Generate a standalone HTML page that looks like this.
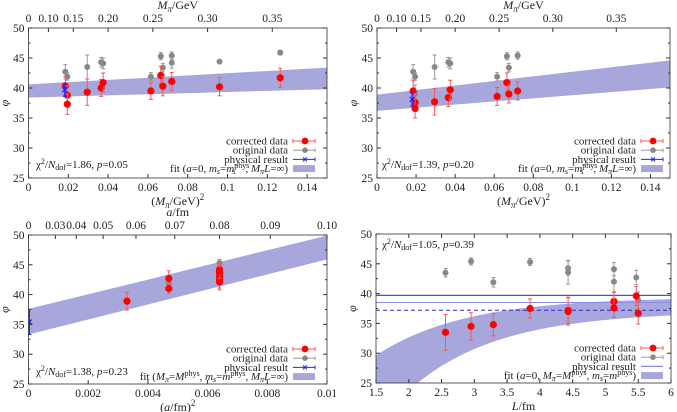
<!DOCTYPE html>
<html><head><meta charset="utf-8"><style>
html,body{margin:0;padding:0;background:#fff;}
svg{display:block;font-family:"Liberation Serif",serif;}
</style></head><body>
<svg id="fig" width="677" height="412" viewBox="0 0 677 412" xmlns="http://www.w3.org/2000/svg"></svg>
<script>
// ---- Panel 1 data: (Mpi/GeV)^2 ----
const p1CorrX=[0.0185,0.0195,0.0195,0.0295,0.0365,0.0375,0.0615,0.0665,0.0675,0.072,0.096,0.1265];
const p1CorrY=[40.3,38.8,37.3,39.3,40.0,40.9,39.5,42.1,40.3,41.1,40.2,41.7];
const p1CorrE=[1.6,1.6,1.7,2.2,1.4,1.6,1.4,1.5,1.6,1.5,1.5,1.6];
const p1OrigX=[0.0185,0.0195,0.0295,0.0365,0.0375,0.0615,0.0665,0.0675,0.072,0.072,0.096,0.1265];
const p1OrigY=[42.7,41.9,43.5,44.3,44.1,41.9,45.3,43.4,45.4,44.2,44.4,45.9];
const p1OrigE=[1.2,0.6,2.0,0.8,0.9,0.7,0.6,0.7,0.6,0.9,0.2,0.4];
const p1Phys=[0.0182,39.7,1.1];
const p1BandLo=[38.4,39.8];
const p1BandHi=[40.6,43.4];
// ---- Panel 2 data ----
const p2CorrX=[0.0185,0.0195,0.0195,0.0295,0.0365,0.0375,0.0615,0.0665,0.0675,0.072];
const p2CorrY=[39.5,37.6,36.6,37.7,38.4,39.7,38.6,40.9,39.0,39.5];
const p2CorrE=[1.7,1.5,1.6,2.2,1.5,1.6,1.5,1.6,1.5,1.5];
const p2OrigX=[0.0185,0.0195,0.0195,0.0295,0.0365,0.0375,0.0615,0.0665,0.0675,0.072];
const p2OrigY=[42.7,41.9,39.0,43.5,44.3,44.1,41.9,45.3,43.4,45.4];
const p2OrigE=[1.2,0.6,1.5,2.0,0.8,0.9,0.7,0.6,0.7,0.6];
const p2Phys=[0.018,38.1,1.1];
const p2BandLo=[36.2,40.1];
const p2BandHi=[38.9,44.6];
// ---- Panel 3 data: (a/fm)^2 ----
const p3CorrX=[0.0033,0.0047,0.0047,0.0064,0.0064,0.0064,0.0064,0.0064,0.0064];
const p3CorrY=[38.9,42.7,41.0,44.2,43.6,43.0,42.5,42.1,43.9];
const p3CorrE=[1.5,1.3,0.8,1.3,1.2,1.2,1.4,1.3,1.2];
const p3OrigX=[0.0047,0.0064,0.0064];
const p3OrigY=[41.9,45.3,44.0];
const p3OrigE=[0.6,0.6,0.8];
const p3Phys=[0.00003,35.4,2.1];
const p3BandLo=[33.3,45.9];
const p3BandHi=[37.6,49.9];
// ---- Panel 4 data: L/fm ----
const p4CorrX=[2.56,2.95,3.29,3.85,4.43,4.43,5.13,5.13,5.47,5.5];
const p4CorrY=[33.5,34.5,34.8,37.5,37.2,37.0,38.7,37.6,39.6,36.7];
const p4CorrE=[3.0,2.3,1.9,1.6,2.2,2.3,1.5,1.6,1.6,1.8];
const p4OrigX=[2.56,2.95,3.29,3.85,4.43,4.43,5.13,5.13,5.47,5.5];
const p4OrigY=[43.5,45.4,41.9,45.3,44.3,43.6,44.1,42.0,42.7,38.9];
const p4OrigE=[0.7,0.6,0.8,0.6,1.2,2.0,1.1,1.7,1.2,1.4];
const p4PhysLines=[39.7,38.5,37.2];
const p4BandUpper=[39.4,29.9,0.745];
const p4BandLower=[37.0,58.9,0.745];

const svg=document.getElementById('fig');
const NS='http://www.w3.org/2000/svg';
function mk(tag,attrs,parent,text){const e=document.createElementNS(NS,tag);for(const k in attrs)e.setAttribute(k,attrs[k]);if(text!==undefined)e.textContent=text;(parent||svg).appendChild(e);return e;}

function panel(cfg){
  const g=mk('g',{});
  
  
  const X=v=>cfg.x0+(v-cfg.xmin)/(cfg.xmax-cfg.xmin)*(cfg.x1-cfg.x0);
  const Y=v=>cfg.y0+(50-v)/25*(cfg.y1-cfg.y0);
  const clip='clip'+cfg.name;
  const d=mk('defs',{},g);const cp=mk('clipPath',{id:clip},d);
  mk('rect',{x:cfg.x0,y:cfg.y0,width:cfg.x1-cfg.x0,height:cfg.y1-cfg.y0},cp);
  const pg=mk('g',{'clip-path':'url(#'+clip+')'},g);
  // band
  let pts='';
  if(cfg.band){
    const [lo,hi]=cfg.band;
    pts=`${X(cfg.xmin)},${Y(hi[0])} ${X(cfg.xmax)},${Y(hi[1])} ${X(cfg.xmax)},${Y(lo[1])} ${X(cfg.xmin)},${Y(lo[0])}`;
  } else {
    const up=[],dn=[];
    for(let L=cfg.xmin;L<=cfg.xmax+1e-9;L+=0.05){
      up.push(X(L)+','+Y(p4BandUpper[0]-p4BandUpper[1]*Math.exp(-p4BandUpper[2]*L)));
      dn.unshift(X(L)+','+Y(p4BandLower[0]-p4BandLower[1]*Math.exp(-p4BandLower[2]*L)));
    }
    pts=up.concat(dn).join(' ');
  }
  const band=mk('polygon',{points:pts,fill:'#a7a7dc'},pg);
  
  
  if(cfg.lines){
    const ln=cfg.lines;
    const l1=mk('line',{x1:cfg.x0,x2:cfg.x1,y1:Y(ln[0]),y2:Y(ln[0]),stroke:'#4a4ae8','stroke-width':1.2},pg);
    
    const l2=mk('line',{x1:cfg.x0,x2:cfg.x1,y1:Y(ln[1]),y2:Y(ln[1]),stroke:'#8c8cf0','stroke-width':1},pg);
    
    const l3=mk('line',{x1:cfg.x0,x2:cfg.x1,y1:Y(ln[2]),y2:Y(ln[2]),stroke:'#2a2ad0','stroke-width':1,'stroke-dasharray':'4,3'},pg);
    
  }
  function pt(x,y,e,col,barcol,r,name){
    const px=X(x),py=Y(y);
    const eg=mk('g',{},pg);
    
    
    mk('line',{x1:px,x2:px,y1:Y(y+e),y2:Y(y-e),stroke:barcol,'stroke-width':1},eg);
    mk('line',{x1:px-2,x2:px+2,y1:Y(y+e),y2:Y(y+e),stroke:barcol,'stroke-width':1},eg);
    mk('line',{x1:px-2,x2:px+2,y1:Y(y-e),y2:Y(y-e),stroke:barcol,'stroke-width':1},eg);
    mk('circle',{cx:px,cy:py,r:r,fill:col},eg);
  }
  for(let i=0;i<cfg.ox.length;i++)pt(cfg.ox[i],cfg.oy[i],cfg.oe[i],'#888','#999',3,'original-point');
  for(let i=0;i<cfg.cx.length;i++)pt(cfg.cx[i],cfg.cy[i],cfg.ce[i],'#f00','#f55',3.6,'corrected-point');
  if(cfg.phys){
    const [x,y,e]=cfg.phys;const px=X(x),py=Y(y);
    const eg=mk('g',{},pg);
    
    
    mk('line',{x1:px,x2:px,y1:Y(y+e),y2:Y(y-e),stroke:'#22f','stroke-width':1.2},eg);
    mk('line',{x1:px-2,x2:px+2,y1:Y(y+e),y2:Y(y+e),stroke:'#22f'},eg);
    mk('line',{x1:px-2,x2:px+2,y1:Y(y-e),y2:Y(y-e),stroke:'#22f'},eg);
    mk('path',{d:`M${px-2.5},${py-2.5}L${px+2.5},${py+2.5}M${px-2.5},${py+2.5}L${px+2.5},${py-2.5}`,stroke:'#22f','stroke-width':1.2},eg);
  }
  // frame
  const fr=mk('rect',{x:cfg.x0,y:cfg.y0,width:cfg.x1-cfg.x0,height:cfg.y1-cfg.y0,fill:'none',stroke:'#333','stroke-width':0.8},g);
  
  // y ticks
  for(let v=25;v<=50;v+=5){
    const py=Y(v);
    mk('line',{x1:cfg.x0,x2:cfg.x0+4,y1:py,y2:py,stroke:'#333'},g);
    mk('line',{x1:cfg.x1,x2:cfg.x1-4,y1:py,y2:py,stroke:'#333'},g);
    const t=mk('text',{x:cfg.x0-4,y:py+4,'text-anchor':'end','font-size':11.5,fill:'#222'},g,String(v));
    
  }
  for(let v=27.5;v<50;v+=5){const py=Y(v);mk('line',{x1:cfg.x0,x2:cfg.x0+2,y1:py,y2:py,stroke:'#333'},g);mk('line',{x1:cfg.x1,x2:cfg.x1-2,y1:py,y2:py,stroke:'#333'},g);}
  // x ticks
  cfg.xt.forEach((v,i)=>{
    const px=X(v);
    mk('line',{x1:px,x2:px,y1:cfg.y1,y2:cfg.y1-4,stroke:'#333'},g);
    if(!cfg.top)mk('line',{x1:px,x2:px,y1:cfg.y0,y2:cfg.y0+4,stroke:'#333'},g);
    const t=mk('text',{x:px,y:cfg.y1+13,'text-anchor':'middle','font-size':11.5,fill:'#222'},g,cfg.xl[i]);
    
  });
  if(cfg.top){
    cfg.top.forEach((v,i)=>{
      const px=X(v*v);
      mk('line',{x1:px,x2:px,y1:cfg.y0,y2:cfg.y0+4,stroke:'#333'},g);
      const t=mk('text',{x:px,y:cfg.y0-6,'text-anchor':'middle','font-size':11.5,fill:'#222'},g,cfg.topl[i]);
      
    });
    const tt=mk('text',{x:(cfg.x0+cfg.x1)/2,y:cfg.y0-19,'text-anchor':'middle','font-size':12,fill:'#222'},g);
    tt.innerHTML=cfg.toptitle;
    
  }
  const xt=mk('text',{x:(cfg.x0+cfg.x1)/2,y:cfg.y1+27,'text-anchor':'middle','font-size':12,fill:'#222'},g);
  xt.innerHTML=cfg.xtitle;
  
  const yt=mk('text',{x:cfg.x0-20,y:(cfg.y0+cfg.y1)/2,'text-anchor':'middle','font-size':12,'font-style':'italic',fill:'#222',transform:`rotate(-90 ${cfg.x0-20} ${(cfg.y0+cfg.y1)/2})`},g,'φ');
  
  // legend
  const lg=mk('g',{'font-size':11,fill:'#222'},g);
  
  const lx=cfg.legX, ly=cfg.legY;
  cfg.legend.forEach((txt,i)=>{
    const y=ly+i*9.2;
    const t=mk('text',{x:lx,y:y+3.5,'text-anchor':'end'},lg);t.innerHTML=txt;
    
    const sx=lx+5,ex=lx+27,mx=lx+17;
    if(i===0){mk('line',{x1:sx,x2:ex,y1:y,y2:y,stroke:'#f55'},lg);mk('line',{x1:sx,x2:sx,y1:y-2,y2:y+2,stroke:'#f55'},lg);mk('line',{x1:ex,x2:ex,y1:y-2,y2:y+2,stroke:'#f55'},lg);mk('circle',{cx:mx,cy:y,r:3.4,fill:'#f00'},lg);}
    else if(i===1){mk('line',{x1:sx,x2:ex,y1:y,y2:y,stroke:'#999'},lg);mk('line',{x1:ex,x2:ex,y1:y-2,y2:y+2,stroke:'#999'},lg);mk('circle',{cx:mx,cy:y,r:2.8,fill:'#888'},lg);}
    else if(i===2){
      if(cfg.lines){mk('line',{x1:sx,x2:ex,y1:y,y2:y,stroke:'#8c8cf0','stroke-width':1.2},lg);}
      else{mk('line',{x1:sx,x2:ex,y1:y,y2:y,stroke:'#22f'},lg);mk('line',{x1:ex,x2:ex,y1:y-2,y2:y+2,stroke:'#22f'},lg);mk('path',{d:`M${mx-2},${y-2}L${mx+2},${y+2}M${mx-2},${y+2}L${mx+2},${y-2}`,stroke:'#22f'},lg);}
    } else {mk('rect',{x:sx,y:y-3.5,width:22,height:7,fill:'#a7a7dc'},lg);}
  });
  const ch=mk('text',{x:cfg.chiX,y:cfg.chiY,'font-size':11,fill:'#222'},g);
  ch.innerHTML=cfg.chi;
  
}

const mpiTop=[0,0.10,0.15,0.20,0.25,0.30,0.35];
const mpiTopL=['0','0.10','0.15','0.20','0.25','0.30','0.35'];
const m2t=[0,0.02,0.04,0.06,0.08,0.1,0.12,0.14];
const m2l=['0','0.02','0.04','0.06','0.08','0.1','0.12','0.14'];
const legA=['corrected data','original data','physical result','fit (<tspan font-style="italic">a</tspan>=0, <tspan font-style="italic">m<tspan font-size="8" dy="2">s</tspan></tspan><tspan dy="-2">=</tspan><tspan font-style="italic">m</tspan><tspan font-size="8" dy="-4">phys</tspan><tspan font-size="8" dx="-17" dy="6">s</tspan><tspan dx="10" dy="-2">, </tspan><tspan font-style="italic">M<tspan font-size="8" dy="2">π</tspan></tspan><tspan dy="-2" font-style="italic">L</tspan>=∞)'];
const mtitle='<tspan font-style="italic">M</tspan><tspan font-size="9" dy="3" font-style="italic">π</tspan><tspan dy="-3">/GeV</tspan>';
const xtitle12='(<tspan font-style="italic">M</tspan><tspan font-size="9" dy="3" font-style="italic">π</tspan><tspan dy="-3">/GeV)</tspan><tspan font-size="9" dy="-5">2</tspan>';

panel({name:'panel-mpi-a',x0:28.5,x1:327,y0:28,y1:178,xmin:0,xmax:0.15,cx:p1CorrX,cy:p1CorrY,ce:p1CorrE,ox:p1OrigX,oy:p1OrigY,oe:p1OrigE,phys:p1Phys,band:[p1BandLo,p1BandHi],xt:m2t,xl:m2l,top:mpiTop,topl:mpiTopL,toptitle:mtitle,xtitle:xtitle12,legend:legA,legX:288,legY:141,chi:'χ<tspan font-size="8" dy="-4">2</tspan><tspan dy="4">/</tspan><tspan font-style="italic">N</tspan><tspan font-size="8" dy="2">dof</tspan><tspan dy="-2">=1.86, </tspan><tspan font-style="italic">p</tspan>=0.05',chiX:36,chiY:168});
panel({name:'panel-mpi-b',x0:377,x1:670,y0:28,y1:178,xmin:0,xmax:0.15,cx:p2CorrX,cy:p2CorrY,ce:p2CorrE,ox:p2OrigX,oy:p2OrigY,oe:p2OrigE,phys:p2Phys,band:[p2BandLo,p2BandHi],xt:m2t,xl:m2l,top:mpiTop,topl:mpiTopL,toptitle:mtitle,xtitle:xtitle12,legend:legA,legX:636,legY:141,chi:'χ<tspan font-size="8" dy="-4">2</tspan><tspan dy="4">/</tspan><tspan font-style="italic">N</tspan><tspan font-size="8" dy="2">dof</tspan><tspan dy="-2">=1.39, </tspan><tspan font-style="italic">p</tspan>=0.20',chiX:382,chiY:168});
panel({name:'panel-a2',x0:28.5,x1:327,y0:235,y1:384,xmin:0,xmax:0.01,cx:p3CorrX,cy:p3CorrY,ce:p3CorrE,ox:p3OrigX,oy:p3OrigY,oe:p3OrigE,phys:p3Phys,band:[p3BandLo,p3BandHi],xt:[0,0.002,0.004,0.006,0.008,0.01],xl:['0','0.002','0.004','0.006','0.008','0.01'],top:[0,0.03,0.04,0.05,0.06,0.07,0.08,0.09,0.10],topl:['0','0.03','0.04','0.05','0.06','0.07','0.08','0.09','0.10'],toptitle:'<tspan font-style="italic">a</tspan>/fm',xtitle:'(<tspan font-style="italic">a</tspan>/fm)<tspan font-size="9" dy="-5">2</tspan>',legend:['corrected data','original data','physical result','fit (<tspan font-style="italic">M<tspan font-size="8" dy="2">π</tspan></tspan><tspan dy="-2">=</tspan><tspan font-style="italic">M</tspan><tspan font-size="8" dy="-4">phys</tspan><tspan dy="4">, </tspan><tspan font-style="italic">m<tspan font-size="8" dy="2">s</tspan></tspan><tspan dy="-2">=</tspan><tspan font-style="italic">m</tspan><tspan font-size="8" dy="-4">phys</tspan><tspan dy="4">, </tspan><tspan font-style="italic">M<tspan font-size="8" dy="2">π</tspan></tspan><tspan dy="-2" font-style="italic">L</tspan>=∞)'],legX:288,legY:349,chi:'χ<tspan font-size="8" dy="-4">2</tspan><tspan dy="4">/</tspan><tspan font-style="italic">N</tspan><tspan font-size="8" dy="2">dof</tspan><tspan dy="-2">=1.38, </tspan><tspan font-style="italic">p</tspan>=0.23',chiX:36,chiY:375});
panel({name:'panel-L',x0:376,x1:671,y0:234,y1:383,xmin:1.5,xmax:6,cx:p4CorrX,cy:p4CorrY,ce:p4CorrE,ox:p4OrigX,oy:p4OrigY,oe:p4OrigE,phys:null,band:null,lines:p4PhysLines,xt:[1.5,2,2.5,3,3.5,4,4.5,5,5.5,6],xl:['1.5','2','2.5','3','3.5','4','4.5','5','5.5','6'],xtitle:'<tspan font-style="italic">L</tspan>/fm',legend:['corrected data','original data','physical result','fit (<tspan font-style="italic">a</tspan>=0, <tspan font-style="italic">M<tspan font-size="8" dy="2">π</tspan></tspan><tspan dy="-2">=</tspan><tspan font-style="italic">M</tspan><tspan font-size="8" dy="-4">phys</tspan><tspan dy="4">, </tspan><tspan font-style="italic">m<tspan font-size="8" dy="2">s</tspan></tspan><tspan dy="-2">=</tspan><tspan font-style="italic">m</tspan><tspan font-size="8" dy="-4">phys</tspan><tspan dy="4">)</tspan>'],legX:636,legY:348,chi:'χ<tspan font-size="8" dy="-4">2</tspan><tspan dy="4">/</tspan><tspan font-style="italic">N</tspan><tspan font-size="8" dy="2">dof</tspan><tspan dy="-2">=1.05, </tspan><tspan font-style="italic">p</tspan>=0.39',chiX:382,chiY:248});
</script>
</body></html>
